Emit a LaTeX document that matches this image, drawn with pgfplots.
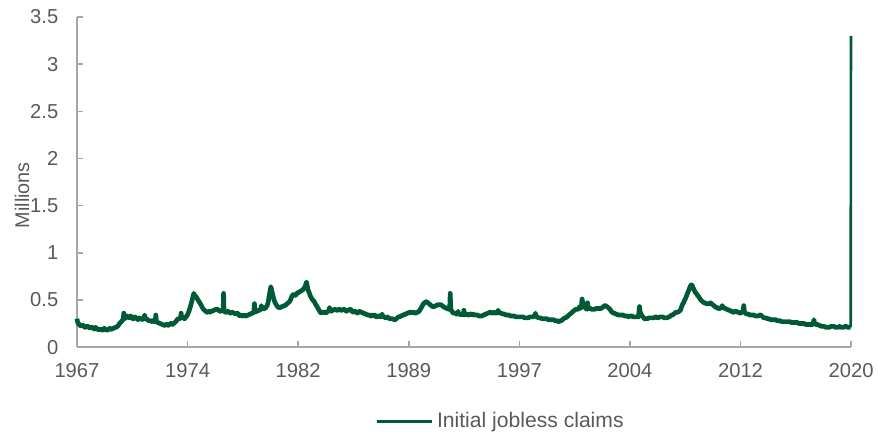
\documentclass[border=0pt]{standalone}
\usepackage{pgfplots}
\pgfplotsset{compat=1.18}
\usepackage{fontspec}
\setmainfont{Liberation Sans}
\definecolor{claimgreen}{HTML}{005A36}
\definecolor{axisgray}{HTML}{A6A6A6}
\definecolor{labelgray}{HTML}{595959}
\begin{document}
\begin{tikzpicture}
\path[use as bounding box] (-41.2pt,-46pt) rectangle (428.8pt,185.8pt);
\begin{axis}[
  at={(0pt,0pt)}, anchor=origin,
  scale only axis,
  width=414.4pt, height=176.7pt,
  xmin=1967, xmax=2020.22,
  ymin=0, ymax=3.5,
  axis x line=bottom, axis y line=left,
  axis line style={-, draw=axisgray, line width=0.8pt},
  clip=false,
  tick align=inside,
  major tick length=3.2pt,
  tick style={draw=axisgray, line width=0.8pt},
  xtick={1967,1974.603,1982.206,1989.809,1997.411,2005.014,2012.617,2020.22},
  xticklabels={1967,1974,1982,1989,1997,2004,2012,2020},
  ytick={0,0.5,1,1.5,2,2.5,3,3.5},
  yticklabels={0,0.5,1,1.5,2,2.5,3,3.5},
  ticklabel style={font=\fontsize{10.8}{13}\selectfont, text=labelgray},
  xticklabel style={yshift=-5pt},
  yticklabel style={xshift=-6.5pt},
  ylabel={Millions},
  ylabel style={at={(axis description cs:-0.071,0.46)}, anchor=center,
    font=\fontsize{10.6}{13}\selectfont, text=labelgray},
  legend style={draw=none, fill=none,
    at={(axis description cs:0.5485,-0.226)}, anchor=center,
    font=\fontsize{11.3}{13}\selectfont, text=labelgray,
    inner sep=0pt},
  legend image code/.code={\draw[#1, line width=1.8pt] (0pt,0pt) -- (29pt,0pt);},
]
% weekly claims, 1967 to mid-March 2020
\addplot[claimgreen, line width=2.5pt, line join=round] table {
1967.00 0.30
1967.05 0.26
1967.10 0.25
1967.15 0.24
1967.22 0.23
1967.30 0.22
1967.38 0.23
1967.45 0.23
1967.52 0.21
1967.60 0.21
1967.68 0.22
1967.75 0.22
1967.82 0.21
1967.90 0.20
1967.98 0.21
1968.05 0.21
1968.12 0.20
1968.20 0.19
1968.28 0.21
1968.35 0.20
1968.42 0.19
1968.50 0.18
1968.58 0.19
1968.65 0.19
1968.72 0.18
1968.80 0.18
1968.88 0.20
1968.95 0.19
1969.02 0.18
1969.10 0.18
1969.18 0.19
1969.25 0.20
1969.32 0.19
1969.40 0.19
1969.48 0.20
1969.55 0.20
1969.62 0.21
1969.70 0.21
1969.78 0.22
1969.85 0.23
1969.92 0.25
1970.00 0.26
1970.10 0.28
1970.18 0.29
1970.22 0.36
1970.26 0.30
1970.35 0.31
1970.45 0.33
1970.52 0.32
1970.60 0.31
1970.68 0.33
1970.75 0.32
1970.82 0.30
1970.90 0.30
1970.98 0.32
1971.05 0.31
1971.12 0.30
1971.20 0.29
1971.28 0.31
1971.35 0.30
1971.42 0.30
1971.50 0.29
1971.58 0.30
1971.65 0.34
1971.70 0.30
1971.78 0.30
1971.85 0.29
1971.92 0.28
1972.00 0.28
1972.08 0.28
1972.15 0.27
1972.22 0.28
1972.30 0.27
1972.38 0.27
1972.42 0.34
1972.46 0.27
1972.53 0.26
1972.60 0.26
1972.68 0.25
1972.75 0.25
1972.82 0.24
1972.90 0.24
1972.98 0.23
1973.05 0.23
1973.12 0.24
1973.20 0.24
1973.28 0.23
1973.35 0.24
1973.42 0.25
1973.50 0.25
1973.58 0.24
1973.65 0.25
1973.72 0.26
1973.80 0.27
1973.88 0.29
1973.95 0.30
1974.05 0.30
1974.12 0.31
1974.16 0.36
1974.20 0.31
1974.30 0.31
1974.40 0.30
1974.48 0.32
1974.55 0.33
1974.62 0.35
1974.70 0.38
1974.78 0.42
1974.85 0.46
1974.92 0.50
1974.97 0.53
1975.03 0.57
1975.08 0.55
1975.15 0.54
1975.20 0.53
1975.25 0.52
1975.32 0.50
1975.40 0.48
1975.48 0.46
1975.55 0.44
1975.62 0.42
1975.70 0.40
1975.78 0.39
1975.85 0.38
1975.92 0.37
1976.00 0.37
1976.08 0.38
1976.15 0.37
1976.22 0.38
1976.30 0.38
1976.38 0.39
1976.45 0.39
1976.52 0.40
1976.60 0.40
1976.68 0.40
1976.75 0.39
1976.82 0.38
1976.90 0.38
1976.98 0.39
1977.05 0.40
1977.08 0.57
1977.11 0.38
1977.20 0.37
1977.30 0.37
1977.38 0.38
1977.45 0.37
1977.52 0.36
1977.60 0.36
1977.68 0.37
1977.75 0.36
1977.82 0.36
1977.90 0.35
1977.98 0.36
1978.05 0.36
1978.12 0.34
1978.20 0.33
1978.28 0.34
1978.35 0.33
1978.42 0.33
1978.50 0.34
1978.58 0.33
1978.65 0.33
1978.72 0.34
1978.80 0.34
1978.88 0.35
1978.95 0.35
1979.02 0.36
1979.10 0.36
1979.16 0.37
1979.20 0.46
1979.24 0.37
1979.32 0.38
1979.40 0.38
1979.48 0.39
1979.55 0.39
1979.62 0.40
1979.68 0.44
1979.72 0.41
1979.80 0.40
1979.88 0.41
1979.95 0.41
1980.02 0.43
1980.08 0.44
1980.15 0.48
1980.22 0.55
1980.28 0.60
1980.33 0.64
1980.38 0.61
1980.42 0.58
1980.48 0.54
1980.55 0.50
1980.62 0.47
1980.70 0.45
1980.78 0.43
1980.85 0.42
1980.92 0.42
1981.00 0.42
1981.08 0.43
1981.15 0.43
1981.22 0.44
1981.30 0.44
1981.38 0.45
1981.45 0.46
1981.52 0.47
1981.60 0.48
1981.68 0.50
1981.75 0.53
1981.82 0.55
1981.90 0.56
1981.98 0.55
1982.05 0.55
1982.12 0.57
1982.20 0.58
1982.28 0.58
1982.35 0.59
1982.42 0.60
1982.50 0.60
1982.58 0.62
1982.65 0.63
1982.72 0.66
1982.78 0.69
1982.84 0.64
1982.90 0.60
1982.98 0.57
1983.05 0.54
1983.12 0.52
1983.20 0.50
1983.28 0.49
1983.35 0.47
1983.42 0.45
1983.50 0.43
1983.58 0.41
1983.65 0.39
1983.72 0.37
1983.80 0.36
1983.88 0.37
1983.95 0.37
1984.02 0.37
1984.10 0.36
1984.18 0.37
1984.25 0.38
1984.32 0.39
1984.36 0.42
1984.40 0.39
1984.48 0.38
1984.55 0.39
1984.62 0.39
1984.70 0.40
1984.78 0.40
1984.85 0.39
1984.92 0.39
1985.00 0.40
1985.08 0.40
1985.15 0.39
1985.22 0.39
1985.30 0.40
1985.38 0.40
1985.45 0.39
1985.52 0.38
1985.60 0.39
1985.68 0.39
1985.75 0.40
1985.82 0.40
1985.90 0.38
1985.98 0.37
1986.05 0.38
1986.12 0.38
1986.20 0.37
1986.28 0.36
1986.35 0.37
1986.42 0.38
1986.50 0.37
1986.58 0.37
1986.65 0.36
1986.72 0.36
1986.80 0.35
1986.88 0.35
1986.95 0.34
1987.02 0.34
1987.10 0.34
1987.18 0.33
1987.25 0.33
1987.32 0.34
1987.40 0.33
1987.48 0.34
1987.55 0.32
1987.62 0.32
1987.70 0.33
1987.78 0.33
1987.85 0.32
1987.92 0.32
1987.98 0.35
1988.04 0.32
1988.12 0.32
1988.20 0.31
1988.28 0.31
1988.35 0.32
1988.42 0.31
1988.50 0.30
1988.58 0.30
1988.65 0.30
1988.72 0.30
1988.80 0.29
1988.88 0.29
1988.95 0.30
1989.02 0.31
1989.10 0.32
1989.18 0.32
1989.25 0.33
1989.32 0.33
1989.40 0.34
1989.48 0.34
1989.55 0.35
1989.62 0.35
1989.70 0.36
1989.78 0.36
1989.85 0.37
1989.92 0.37
1990.00 0.36
1990.08 0.37
1990.15 0.37
1990.22 0.36
1990.30 0.36
1990.38 0.37
1990.45 0.37
1990.52 0.38
1990.60 0.40
1990.68 0.42
1990.75 0.44
1990.82 0.46
1990.90 0.47
1990.98 0.48
1991.05 0.48
1991.12 0.47
1991.20 0.46
1991.28 0.45
1991.35 0.44
1991.42 0.43
1991.50 0.43
1991.58 0.43
1991.65 0.44
1991.72 0.44
1991.80 0.45
1991.88 0.45
1991.95 0.45
1992.02 0.45
1992.10 0.44
1992.18 0.43
1992.25 0.42
1992.32 0.42
1992.40 0.41
1992.48 0.41
1992.55 0.40
1992.62 0.40
1992.66 0.57
1992.70 0.40
1992.78 0.38
1992.85 0.36
1992.92 0.36
1993.00 0.36
1993.08 0.35
1993.15 0.35
1993.20 0.38
1993.24 0.35
1993.32 0.35
1993.40 0.34
1993.48 0.35
1993.56 0.34
1993.60 0.39
1993.64 0.34
1993.72 0.35
1993.80 0.35
1993.88 0.34
1993.95 0.34
1994.02 0.35
1994.10 0.35
1994.18 0.34
1994.25 0.35
1994.32 0.34
1994.40 0.34
1994.48 0.34
1994.55 0.34
1994.62 0.33
1994.70 0.33
1994.78 0.33
1994.85 0.33
1994.92 0.34
1995.00 0.34
1995.08 0.35
1995.15 0.35
1995.22 0.36
1995.30 0.36
1995.38 0.37
1995.45 0.37
1995.52 0.36
1995.60 0.36
1995.68 0.37
1995.75 0.36
1995.82 0.36
1995.90 0.37
1995.96 0.39
1996.02 0.36
1996.10 0.36
1996.18 0.36
1996.25 0.35
1996.32 0.35
1996.40 0.35
1996.48 0.34
1996.55 0.34
1996.62 0.34
1996.70 0.34
1996.78 0.33
1996.85 0.33
1996.92 0.33
1997.00 0.33
1997.08 0.33
1997.15 0.32
1997.22 0.32
1997.30 0.32
1997.38 0.32
1997.45 0.32
1997.52 0.32
1997.60 0.32
1997.68 0.32
1997.75 0.31
1997.82 0.31
1997.90 0.31
1997.98 0.31
1998.05 0.31
1998.12 0.32
1998.20 0.32
1998.28 0.32
1998.35 0.32
1998.42 0.33
1998.48 0.33
1998.52 0.36
1998.56 0.32
1998.64 0.32
1998.72 0.31
1998.80 0.31
1998.88 0.31
1998.95 0.30
1999.02 0.30
1999.10 0.30
1999.18 0.30
1999.25 0.30
1999.32 0.30
1999.40 0.29
1999.48 0.29
1999.55 0.29
1999.62 0.29
1999.70 0.29
1999.78 0.29
1999.85 0.28
1999.92 0.28
2000.00 0.28
2000.08 0.27
2000.15 0.27
2000.22 0.28
2000.30 0.28
2000.38 0.29
2000.45 0.30
2000.52 0.31
2000.60 0.31
2000.68 0.32
2000.75 0.33
2000.82 0.34
2000.90 0.35
2000.98 0.36
2001.05 0.37
2001.12 0.38
2001.20 0.39
2001.28 0.40
2001.35 0.40
2001.42 0.40
2001.50 0.41
2001.56 0.43
2001.62 0.41
2001.68 0.43
2001.72 0.51
2001.76 0.48
2001.80 0.45
2001.86 0.44
2001.92 0.42
2001.98 0.41
2002.05 0.40
2002.10 0.47
2002.14 0.41
2002.22 0.41
2002.30 0.41
2002.38 0.40
2002.45 0.40
2002.52 0.40
2002.60 0.40
2002.68 0.41
2002.75 0.41
2002.82 0.41
2002.90 0.41
2002.98 0.41
2003.05 0.41
2003.12 0.42
2003.20 0.43
2003.28 0.44
2003.35 0.44
2003.42 0.43
2003.50 0.42
2003.58 0.41
2003.65 0.40
2003.72 0.38
2003.80 0.37
2003.88 0.36
2003.95 0.36
2004.02 0.35
2004.10 0.35
2004.18 0.34
2004.25 0.34
2004.32 0.34
2004.40 0.34
2004.48 0.34
2004.55 0.34
2004.62 0.33
2004.70 0.33
2004.78 0.33
2004.85 0.33
2004.92 0.32
2005.00 0.33
2005.08 0.33
2005.15 0.33
2005.22 0.32
2005.30 0.32
2005.38 0.32
2005.45 0.32
2005.52 0.32
2005.60 0.32
2005.67 0.43
2005.72 0.37
2005.78 0.35
2005.85 0.33
2005.92 0.32
2006.00 0.30
2006.08 0.30
2006.15 0.30
2006.22 0.30
2006.30 0.31
2006.38 0.31
2006.45 0.31
2006.52 0.31
2006.60 0.31
2006.68 0.31
2006.75 0.32
2006.82 0.32
2006.90 0.31
2006.98 0.31
2007.05 0.32
2007.12 0.32
2007.20 0.32
2007.28 0.32
2007.35 0.31
2007.42 0.31
2007.50 0.31
2007.58 0.31
2007.65 0.32
2007.72 0.32
2007.80 0.33
2007.88 0.34
2007.95 0.34
2008.02 0.35
2008.10 0.36
2008.18 0.37
2008.25 0.37
2008.32 0.37
2008.40 0.38
2008.48 0.39
2008.55 0.42
2008.62 0.45
2008.70 0.47
2008.78 0.50
2008.85 0.52
2008.92 0.55
2009.00 0.58
2009.08 0.61
2009.15 0.64
2009.22 0.66
2009.28 0.66
2009.35 0.63
2009.42 0.61
2009.50 0.58
2009.58 0.57
2009.65 0.55
2009.72 0.54
2009.80 0.52
2009.88 0.50
2009.95 0.49
2010.02 0.48
2010.10 0.47
2010.18 0.47
2010.25 0.46
2010.32 0.46
2010.40 0.46
2010.48 0.46
2010.55 0.47
2010.62 0.46
2010.70 0.45
2010.78 0.44
2010.85 0.43
2010.92 0.42
2011.00 0.42
2011.08 0.41
2011.15 0.41
2011.22 0.41
2011.30 0.42
2011.36 0.44
2011.42 0.42
2011.50 0.41
2011.58 0.41
2011.65 0.40
2011.72 0.40
2011.80 0.39
2011.88 0.39
2011.95 0.38
2012.02 0.38
2012.10 0.37
2012.18 0.37
2012.25 0.38
2012.32 0.38
2012.40 0.37
2012.48 0.37
2012.55 0.36
2012.62 0.36
2012.70 0.37
2012.78 0.37
2012.84 0.44
2012.89 0.37
2012.96 0.36
2013.02 0.35
2013.10 0.35
2013.18 0.35
2013.25 0.34
2013.32 0.34
2013.40 0.34
2013.48 0.34
2013.55 0.34
2013.62 0.33
2013.70 0.33
2013.78 0.33
2013.85 0.33
2013.92 0.34
2014.00 0.34
2014.08 0.33
2014.15 0.32
2014.22 0.31
2014.30 0.31
2014.38 0.31
2014.45 0.30
2014.52 0.30
2014.60 0.30
2014.68 0.29
2014.75 0.29
2014.82 0.29
2014.90 0.29
2014.98 0.29
2015.05 0.29
2015.12 0.28
2015.20 0.28
2015.28 0.28
2015.35 0.28
2015.42 0.27
2015.50 0.27
2015.58 0.27
2015.65 0.27
2015.72 0.27
2015.80 0.27
2015.88 0.27
2015.95 0.27
2016.02 0.27
2016.10 0.26
2016.18 0.26
2016.25 0.26
2016.32 0.26
2016.40 0.26
2016.48 0.26
2016.55 0.26
2016.62 0.25
2016.70 0.25
2016.78 0.25
2016.85 0.25
2016.92 0.25
2017.00 0.25
2017.08 0.24
2017.15 0.24
2017.22 0.24
2017.30 0.24
2017.38 0.24
2017.45 0.24
2017.52 0.24
2017.60 0.24
2017.66 0.29
2017.70 0.26
2017.76 0.24
2017.84 0.24
2017.92 0.24
2018.00 0.23
2018.08 0.23
2018.15 0.22
2018.22 0.22
2018.30 0.22
2018.38 0.22
2018.45 0.21
2018.52 0.21
2018.60 0.21
2018.68 0.21
2018.75 0.21
2018.82 0.22
2018.90 0.22
2018.98 0.22
2019.05 0.22
2019.12 0.21
2019.20 0.21
2019.28 0.21
2019.35 0.21
2019.42 0.22
2019.50 0.21
2019.58 0.21
2019.65 0.21
2019.72 0.21
2019.80 0.22
2019.88 0.22
2019.95 0.21
2020.02 0.21
2020.08 0.21
2020.14 0.21
2020.19 0.21
};
\addlegendentry{Initial jobless claims}
% the March 2020 jump, a single week
\addplot[claimgreen, line width=1.4pt, forget plot] table {
2020.19 0.21
2020.21 3.30
};
\end{axis}
\end{tikzpicture}
\end{document}
